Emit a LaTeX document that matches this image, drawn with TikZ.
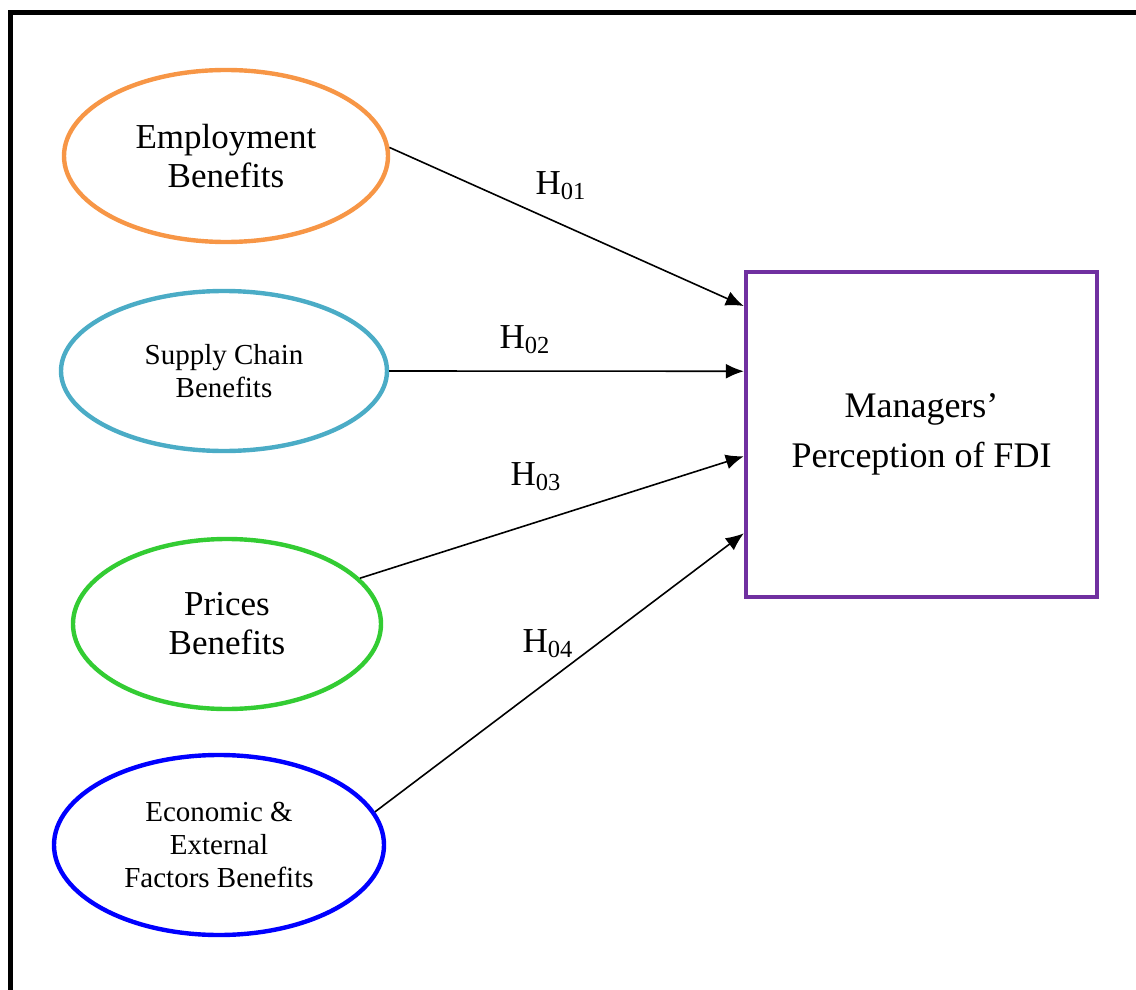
\documentclass[tikz,border=0pt]{standalone}
\usepackage{fontspec}
\setmainfont{Liberation Serif}
\usepackage{tikz}
\usetikzlibrary{shapes.geometric,arrows.meta,calc}

\definecolor{empcol}{RGB}{247,150,70}
\definecolor{supcol}{RGB}{75,172,198}
\definecolor{prccol}{RGB}{51,204,51}
\definecolor{ecocol}{RGB}{0,0,255}
\definecolor{mgrcol}{RGB}{112,48,160}

\begin{document}
\begin{tikzpicture}[x=0.5pt,y=-0.5pt]
\tikzset{factor/.style={ellipse,draw,line width=2.2pt,align=center,inner sep=0pt}}
\tikzset{bigtext/.style={font=\fontsize{17.5}{19.5}\selectfont}}
\tikzset{smalltext/.style={font=\fontsize{14.5}{16.5}\selectfont}}
\tikzset{hyp/.style={-{Latex[length=9pt,width=7.5pt]},line width=0.8pt}}
\tikzset{hlabel/.style={font=\fontsize{17.5}{19.5}\selectfont,inner sep=0pt}}
\useasboundingbox (0,0) rectangle (1136,990);
% outer frame
\draw[line width=2.5pt] (10.5,1100) -- (10.5,12.5) -- (1250,12.5);

\node[factor,bigtext,draw=empcol,minimum width=162pt,minimum height=86pt] (emp) at (226,156) {Employment\\Benefits};
\node[factor,smalltext,draw=supcol,minimum width=163pt,minimum height=80pt] (sup) at (224,371) {Supply Chain\\Benefits};
\node[factor,bigtext,draw=prccol,minimum width=154pt,minimum height=85pt] (prc) at (227,624) {Prices\\Benefits};
\node[factor,smalltext,draw=ecocol,minimum width=165pt,minimum height=90pt] (eco) at (219,845) {Economic \&\\External\\Factors Benefits};

\node[draw=mgrcol,line width=2.2pt,minimum width=175.5pt,minimum height=162.5pt,align=center,
  font=\fontsize{18}{25}\selectfont] (mgr) at (921.5,434.5) {Managers’\\Perception of FDI};

\coordinate (in1) at ($(mgr.north west)!0.11!(mgr.south west)$);
\coordinate (in2) at ($(mgr.north west)!0.308!(mgr.south west)$);
\coordinate (in3) at ($(mgr.north west)!0.566!(mgr.south west)$);
\coordinate (in4) at ($(mgr.north west)!0.80!(mgr.south west)$);

\draw[hyp] (emp.3) -- (in1);
\draw[hyp] (sup.east) -- (in2);
\draw[hyp] (prc.19) -- (in3);
\draw[hyp] (eco.12) -- (in4);

\node[hlabel] (h1) at (561,186) {H\textsubscript{01}};
\node[hlabel] (h2) at (525,340) {H\textsubscript{02}};
\node[hlabel] (h3) at (536,477) {H\textsubscript{03}};
\node[hlabel] (h4) at (548,644) {H\textsubscript{04}};
\end{tikzpicture}
\end{document}
